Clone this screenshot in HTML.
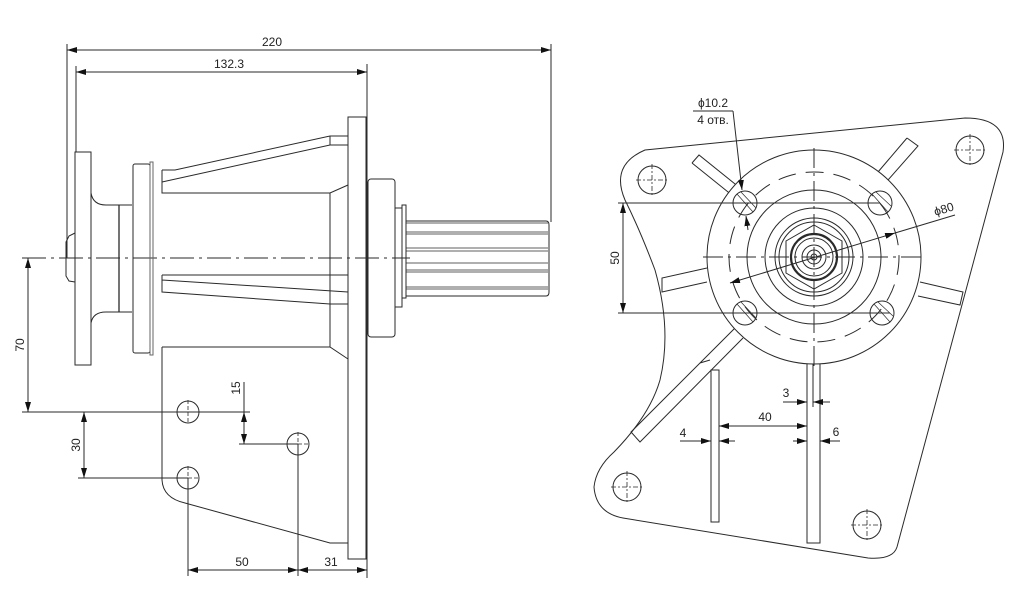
<!DOCTYPE html>
<html><head><meta charset="utf-8"><style>html,body{margin:0;padding:0;background:#fff}svg{display:block}</style></head><body>
<svg width="1024" height="609" viewBox="0 0 1024 609" xmlns="http://www.w3.org/2000/svg" font-family="Liberation Sans, DejaVu Sans, sans-serif" font-size="12" fill="none" stroke="#2a2a2a" stroke-width="1">
<defs>
<marker id="a" viewBox="0 0 10 6" refX="10" refY="3" markerWidth="10" markerHeight="6" orient="auto-start-reverse" markerUnits="userSpaceOnUse"><path d="M0,0L10,3L0,6z" fill="#111" stroke="none"/></marker>
</defs>
<!-- LEFT VIEW -->
<!-- dims top -->
<line x1="67" y1="44" x2="67" y2="258"/>
<line x1="551" y1="44" x2="551" y2="222"/>
<line x1="67" y1="50" x2="551" y2="50" marker-start="url(#a)" marker-end="url(#a)"/>
<text x="272" y="46" fill="#222" stroke="none" font-size="12" text-anchor="middle">220</text>
<line x1="76" y1="66" x2="76" y2="152"/>
<line x1="367" y1="64" x2="367" y2="578"/>
<line x1="76" y1="72" x2="367" y2="72" marker-start="url(#a)" marker-end="url(#a)"/>
<text x="229" y="68" fill="#222" stroke="none" font-size="12" text-anchor="middle">132.3</text>
<!-- centerline -->
<line x1="22" y1="258" x2="410" y2="258" stroke-dasharray="24,5,3,5"/>
<!-- hub -->
<path d="M75,233 L69,236 L66,242 L66,276 L69,281 L75,282"/>
<rect x="75" y="152" width="16" height="213"/>
<path d="M91,193 Q93,205 106,205 L132,205 M91,323 Q93,312 106,312 L132,312"/>
<line x1="119" y1="205" x2="119" y2="312" stroke-width="1.3"/>
<rect x="133" y="164" width="17" height="189" rx="2"/>
<rect x="150" y="162" width="3" height="193" stroke="#666"/>
<!-- body -->
<path d="M162,170 L175,170 L330,136 L348,136"/>
<path d="M162,182 L330,145 L348,145"/>
<path d="M330,136 L330,145"/>
<path d="M162,170 L162,193 L330,193 L348,185"/>
<line x1="330" y1="193" x2="330" y2="347"/>
<path d="M162,275 L348,275"/>
<path d="M162,275 L162,292 L330,304 L348,304 M162,280 L348,292"/>
<path d="M162,347 L330,347 L348,359"/>
<path d="M162,347 L162,480 Q163,498 185,503 L330,543 L348,543"/>
<rect x="348" y="117" width="18" height="442"/>
<!-- bearing & shaft -->
<rect x="368" y="179" width="27" height="158" rx="3"/>
<rect x="395" y="208" width="7" height="99"/>
<rect x="402" y="205" width="4" height="93"/>
<path d="M406,221 L546,221 Q549,221 549,225 L549,292 Q549,296 546,296 L406,296"/>
<g stroke-width="0.8">
<line x1="406" y1="223" x2="548" y2="223"/><line x1="406" y1="232" x2="548" y2="232"/><line x1="406" y1="234" x2="548" y2="234"/>
<line x1="406" y1="248" x2="548" y2="248"/><line x1="406" y1="251" x2="548" y2="251"/><line x1="406" y1="263" x2="548" y2="263"/>
<line x1="406" y1="270" x2="548" y2="270"/><line x1="406" y1="272" x2="548" y2="272"/><line x1="406" y1="287" x2="548" y2="287"/><line x1="406" y1="289" x2="548" y2="289"/>
</g>
<!-- holes -->
<g>
<circle cx="188" cy="412" r="11"/><circle cx="188" cy="478" r="11"/><circle cx="298" cy="444" r="11"/>
<g stroke-dasharray="4,2" stroke-width="0.8">
<line x1="176" y1="412" x2="200" y2="412"/><line x1="188" y1="400" x2="188" y2="424"/>
<line x1="176" y1="478" x2="200" y2="478"/><line x1="188" y1="466" x2="188" y2="490"/>
<line x1="286" y1="444" x2="310" y2="444"/><line x1="298" y1="432" x2="298" y2="456"/>
</g>
</g>
<!-- dims left view -->
<line x1="22" y1="412" x2="250" y2="412"/>
<line x1="28" y1="258" x2="28" y2="412" marker-start="url(#a)" marker-end="url(#a)"/>
<text transform="translate(24,345) rotate(-90)" fill="#222" stroke="none" text-anchor="middle">70</text>
<line x1="78" y1="478" x2="188" y2="478"/>
<line x1="84" y1="412" x2="84" y2="478" marker-start="url(#a)" marker-end="url(#a)"/>
<text transform="translate(80,445) rotate(-90)" fill="#222" stroke="none" text-anchor="middle">30</text>
<line x1="244" y1="382" x2="244" y2="444"/>
<line x1="244" y1="412" x2="244" y2="425" marker-start="url(#a)"/>
<line x1="244" y1="431" x2="244" y2="444" marker-end="url(#a)"/>
<line x1="239" y1="444" x2="298" y2="444"/>
<text transform="translate(240,388) rotate(-90)" fill="#222" stroke="none" text-anchor="middle">15</text>
<line x1="188" y1="478" x2="188" y2="576"/>
<line x1="298" y1="444" x2="298" y2="576"/>
<line x1="188" y1="570" x2="298" y2="570" marker-start="url(#a)" marker-end="url(#a)"/>
<line x1="298" y1="570" x2="367" y2="570" marker-start="url(#a)" marker-end="url(#a)"/>
<text x="242" y="566" fill="#222" stroke="none" text-anchor="middle">50</text>
<text x="331" y="566" fill="#222" stroke="none" text-anchor="middle">31</text>

<!-- RIGHT VIEW -->
<path d="M965,118 Q1008,118 1003,152 L897,547 Q893,560 868,558 L623,518 Q596,513 594,487 Q596,468 614,452 Q650,415 660,380 Q672,330 655,270 Q640,230 625,200 Q610,165 645,150 Z"/>
<!-- ribs -->
<path d="M692,163 L699,155 L745,192 M738,200 L692,163"/>
<path d="M907,138 L918,146 L888,180 M878,172 L907,138"/>
<path d="M920,282 L963,292 L960,305 L918,296"/>
<path d="M707,268 L662,278 L662,292 L707,282"/>
<path d="M735,328 L631,432 L640,442 L743,338 M700,363 L710,360"/>
<rect x="711" y="370" width="8" height="152"/>
<rect x="807" y="360" width="13" height="183"/>
<line x1="813" y1="360" x2="813" y2="407"/>
<!-- flange -->
<circle cx="814" cy="257" r="107" fill="#fff"/>
<circle cx="814" cy="257" r="85" stroke-dasharray="18,10"/>
<circle cx="814" cy="257" r="67"/>
<circle cx="814" cy="257" r="49"/>
<circle cx="814" cy="257" r="39"/>
<circle cx="814" cy="257" r="35"/>
<polygon points="814,225 842,241 842,273 814,289 786,273 786,241"/>
<circle cx="814" cy="257" r="23" stroke-width="2.2"/>
<circle cx="814" cy="257" r="19"/>
<circle cx="814" cy="257" r="12"/>
<circle cx="814" cy="257" r="7"/>
<circle cx="814" cy="257" r="3"/>
<g stroke-dasharray="20,5,3,5">
<line x1="703" y1="257" x2="925" y2="257"/>
<line x1="814" y1="148" x2="814" y2="368"/>
</g>
<!-- bolt holes -->
<g>
<circle cx="745" cy="203" r="12"/><circle cx="880" cy="203" r="12"/><circle cx="745" cy="313" r="12"/><circle cx="882" cy="313" r="12"/>
<path d="M737,194 L753,212 M741,192 L756,208 M872,194 L888,212 M876,192 L891,206 M737,304 L753,322 M741,302 L756,318 M874,304 L890,322 M878,302 L893,316" stroke-width="0.7"/>
</g>
<!-- corner holes -->
<g>
<circle cx="970" cy="150" r="14"/><circle cx="652" cy="180" r="14"/><circle cx="627" cy="487" r="14"/><circle cx="867" cy="525" r="14"/>
<g stroke-dasharray="5,2,2,2" stroke-width="0.8">
<line x1="954" y1="150" x2="986" y2="150"/><line x1="970" y1="134" x2="970" y2="166"/>
<line x1="636" y1="180" x2="668" y2="180"/><line x1="652" y1="164" x2="652" y2="196"/>
<line x1="611" y1="487" x2="643" y2="487"/><line x1="627" y1="471" x2="627" y2="503"/>
<line x1="851" y1="525" x2="883" y2="525"/><line x1="867" y1="509" x2="867" y2="541"/>
</g>
</g>
<!-- dims right view -->
<line x1="618" y1="203" x2="880" y2="203"/>
<line x1="618" y1="313" x2="890" y2="313"/>
<line x1="623" y1="203" x2="623" y2="313" marker-start="url(#a)" marker-end="url(#a)"/>
<text transform="translate(619,258) rotate(-90)" fill="#222" stroke="none" text-anchor="middle">50</text>
<line x1="730" y1="283" x2="895" y2="233" marker-start="url(#a)" marker-end="url(#a)"/>
<line x1="895" y1="233" x2="955" y2="215"/>
<text transform="translate(945,213) rotate(-17)" fill="#222" stroke="none" text-anchor="middle">ϕ80</text>
<text x="713" y="107" fill="#222" stroke="none" text-anchor="middle">ϕ10.2</text>
<text x="713" y="124" fill="#222" stroke="none" text-anchor="middle" font-family="Liberation Sans, DejaVu Sans, sans-serif">4 отв.</text>
<line x1="693" y1="111" x2="733" y2="111"/>
<line x1="733" y1="111" x2="742" y2="190" marker-end="url(#a)"/>
<line x1="748" y1="230" x2="746" y2="216" marker-end="url(#a)"/>
<line x1="783" y1="402" x2="807" y2="402" marker-end="url(#a)"/>
<line x1="830" y1="402" x2="813" y2="402" marker-end="url(#a)"/>
<text x="786" y="397" fill="#222" stroke="none" text-anchor="middle">3</text>
<line x1="719" y1="426" x2="807" y2="426" marker-start="url(#a)" marker-end="url(#a)"/>
<text x="765" y="421" fill="#222" stroke="none" text-anchor="middle">40</text>
<line x1="680" y1="441" x2="711" y2="441" marker-end="url(#a)"/>
<line x1="735" y1="441" x2="719" y2="441" marker-end="url(#a)"/>
<text x="683" y="437" fill="#222" stroke="none" text-anchor="middle">4</text>
<line x1="793" y1="441" x2="807" y2="441" marker-end="url(#a)"/>
<line x1="840" y1="441" x2="820" y2="441" marker-end="url(#a)"/>
<text x="836" y="436" fill="#222" stroke="none" text-anchor="middle">6</text>
</svg>
</body></html>
